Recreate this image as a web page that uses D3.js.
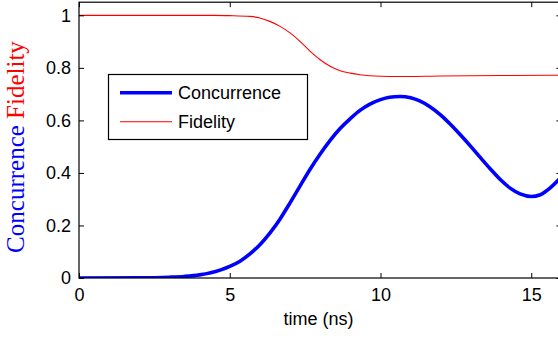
<!DOCTYPE html>
<html>
<head>
<meta charset="utf-8">
<script src="https://cdn.jsdelivr.net/npm/d3@7"></script>
<style>
  body { margin: 0; background: #fff; }
  svg { display: block; font-family: "Liberation Sans", Arial, sans-serif; }
</style>
</head>
<body>
<svg width="558" height="338"></svg>
<script>
// values
var concTime = [0, 2, 3, 3.5, 4, 4.68, 5, 5.34, 5.67, 6, 6.33, 6.67, 7, 7.33, 7.66, 8, 8.33, 8.66, 9, 9.32, 9.65, 10, 10.3, 10.65, 11, 11.3, 11.64, 12, 12.3, 12.64, 13, 13.3, 13.63, 14, 14.3, 14.63, 15, 15.3, 15.62, 16];
var concurrence = [0, 0.0005, 0.003, 0.006, 0.012, 0.03, 0.044, 0.064, 0.092, 0.127, 0.171, 0.225, 0.286, 0.35, 0.413, 0.472, 0.524, 0.569, 0.607, 0.638, 0.662, 0.679, 0.688, 0.691, 0.686, 0.674, 0.652, 0.62, 0.587, 0.546, 0.5, 0.46, 0.417, 0.372, 0.342, 0.32, 0.31, 0.317, 0.342, 0.385];
var fidTime = [0, 4.5, 5, 5.67, 6, 6.33, 6.67, 7, 7.33, 7.66, 8, 8.33, 8.66, 9, 9.32, 10, 10.6, 12, 14, 16];
var fidelity = [1, 1, 0.999, 0.996, 0.99, 0.977, 0.958, 0.933, 0.901, 0.864, 0.831, 0.806, 0.789, 0.78, 0.774, 0.768, 0.767, 0.769, 0.771, 0.772];
var xTicks = [0, 5, 10, 15];
var yTicks = [0, 0.2, 0.4, 0.6, 0.8, 1];
var legendNames = ["Concurrence", "Fidelity"];

var svg = d3.select("svg");
var mLeft = 79, mRight = 561.4, mTop = 2.2, mBottom = 278;

var x = d3.scaleLinear().domain([0, 16]).range([mLeft, mRight]);
var y = d3.scaleLinear().domain([0, 1.05]).range([mBottom, mTop]);

svg.append("clipPath").attr("id", "clip")
  .append("rect").attr("x", mLeft).attr("y", mTop).attr("width", mRight - mLeft).attr("height", mBottom - mTop);

var line = d3.line()
  .x(function(d) { return x(d[0]); })
  .y(function(d) { return y(d[1]); })
  .curve(d3.curveMonotoneX);

var plot = svg.append("g").attr("clip-path", "url(#clip)");

plot.append("path")
  .datum(d3.zip(fidTime, fidelity))
  .attr("d", line)
  .attr("fill", "none")
  .attr("stroke", "#ff0000")
  .attr("stroke-width", 1.1);

plot.append("path")
  .datum(d3.zip(concTime, concurrence))
  .attr("d", line)
  .attr("fill", "none")
  .attr("stroke", "#0000ff")
  .attr("stroke-width", 3.6);

// axes, ticks pointing inwards on all four sides
var axisStyle = function(g) {
  g.select(".domain").remove();
  g.selectAll("line").attr("stroke", "#000");
  g.selectAll("text").attr("font-size", 18).attr("fill", "#000").attr("font-family", "Liberation Sans, Arial, sans-serif");
};

svg.append("g").attr("transform", "translate(0," + mBottom + ")")
  .call(d3.axisBottom(x).tickValues(xTicks).tickSizeInner(-5).tickSizeOuter(0).tickPadding(10).tickFormat(d3.format("d")))
  .call(axisStyle);
svg.append("g").attr("transform", "translate(0," + mTop + ")")
  .call(d3.axisTop(x).tickValues(xTicks).tickSizeInner(-5).tickSizeOuter(0).tickFormat(""))
  .call(axisStyle);
svg.append("g").attr("transform", "translate(" + mLeft + ",0)")
  .call(d3.axisLeft(y).tickValues(yTicks).tickSizeInner(-5).tickSizeOuter(0).tickPadding(8).tickFormat(d3.format("")))
  .call(axisStyle);
svg.append("g").attr("transform", "translate(" + mRight + ",0)")
  .call(d3.axisRight(y).tickValues(yTicks).tickSizeInner(-5).tickSizeOuter(0).tickFormat(""))
  .call(axisStyle);

svg.append("rect")
  .attr("x", mLeft).attr("y", mTop).attr("width", mRight - mLeft).attr("height", mBottom - mTop)
  .attr("fill", "none").attr("stroke", "#000").attr("stroke-width", 1.2);

svg.append("text")
  .attr("x", (mLeft + 558) / 2).attr("y", 325)
  .attr("text-anchor", "middle").attr("font-size", 18)
  .text("time (ns)");

var ylab = svg.append("text")
  .attr("transform", "translate(24,147) rotate(-90)")
  .attr("text-anchor", "middle")
  .attr("font-family", "Liberation Serif, DejaVu Serif, serif")
  .attr("font-size", 25);
ylab.append("tspan").attr("fill", "#0000ff").text("Concurrence ");
ylab.append("tspan").attr("fill", "#ff0000").text("Fidelity");

// legend
var legend = svg.append("g");
legend.append("rect")
  .attr("x", 108.5).attr("y", 74.5).attr("width", 199).attr("height", 65)
  .attr("fill", "#fff").attr("stroke", "#000").attr("stroke-width", 1.2);
var legendColors = ["#0000ff", "#ff0000"];
var legendWidths = [3.6, 1.1];
legendNames.forEach(function(name, i) {
  var ly = 92.7 + i * 29;
  legend.append("line")
    .attr("x1", 120).attr("x2", 172).attr("y1", ly).attr("y2", ly)
    .attr("stroke", legendColors[i]).attr("stroke-width", legendWidths[i]);
  legend.append("text")
    .attr("x", 178).attr("y", ly + 6.5).attr("font-size", 18)
    .text(name);
});
</script>
</body>
</html>
